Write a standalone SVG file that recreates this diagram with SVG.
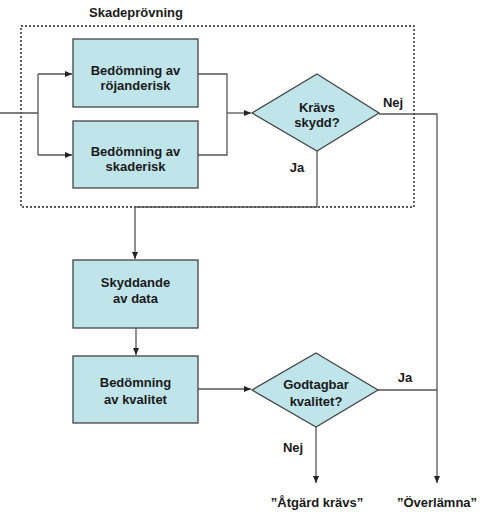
<svg xmlns="http://www.w3.org/2000/svg" width="492" height="515" viewBox="0 0 492 515">
<style>
.box{fill:#bfe4ea;stroke:#444;stroke-width:1.3}
.ln{fill:none;stroke:#555;stroke-width:1.3}
.t{font-family:"Liberation Sans",Arial,sans-serif;font-weight:bold;font-size:13px;fill:#1a1a1a;text-anchor:middle}
.dash{fill:none;stroke:#222;stroke-width:1.4;stroke-dasharray:2 2}
</style>
<defs>
<marker id="ah" markerWidth="8" markerHeight="8" refX="7" refY="4" orient="auto" markerUnits="userSpaceOnUse">
<path d="M0,1 L7,4 L0,7 Z" fill="#222"/>
</marker>
</defs>
<rect width="492" height="515" fill="#fff"/>
<g id="skadeprovning">
<rect class="dash" x="21" y="26" width="393" height="181"/>
<text class="t" x="136" y="17">Skadeprövning</text>
</g>
<g id="connectors">
<path class="ln" d="M0,113 H38"/>
<path class="ln" d="M38,74 V155"/>
<path class="ln" d="M38,74 H72" marker-end="url(#ah)"/>
<path class="ln" d="M38,155 H72" marker-end="url(#ah)"/>
<path class="ln" d="M198,74 H227 V155 H198"/>
<path class="ln" d="M227,113 H251" marker-end="url(#ah)"/>
<path class="ln" d="M379,114 H437 V483" marker-end="url(#ah)"/>
<path class="ln" d="M317,151 V207 H135 V259" marker-end="url(#ah)"/>
<path class="ln" d="M136,328 V355" marker-end="url(#ah)"/>
<path class="ln" d="M198,389 H251" marker-end="url(#ah)"/>
<path class="ln" d="M378,390 H437"/>
<path class="ln" d="M316,427 V483" marker-end="url(#ah)"/>
<text class="t" x="393" y="107">Nej</text>
<text class="t" x="297" y="172">Ja</text>
<text class="t" x="405" y="382">Ja</text>
<text class="t" x="293" y="452">Nej</text>
</g>
<g id="rojanderisk">
<rect class="box" x="73" y="39" width="125" height="68"/>
<text class="t" x="135.5" y="75">Bedömning av</text>
<text class="t" x="135.5" y="90">röjanderisk</text>
</g>
<g id="skaderisk">
<rect class="box" x="73" y="121" width="125" height="67"/>
<text class="t" x="135.5" y="156">Bedömning av</text>
<text class="t" x="135.5" y="171">skaderisk</text>
</g>
<g id="kravs-skydd">
<polygon class="box" points="317,74 379,113 317,151 252,113"/>
<text class="t" x="317" y="112">Krävs</text>
<text class="t" x="317" y="127">skydd?</text>
</g>
<g id="skyddande">
<rect class="box" x="73" y="260" width="125" height="68"/>
<text class="t" x="135.5" y="287">Skyddande</text>
<text class="t" x="135.5" y="303">av data</text>
</g>
<g id="bedomning-kvalitet">
<rect class="box" x="73" y="356" width="125" height="67"/>
<text class="t" x="135.5" y="387">Bedömning</text>
<text class="t" x="135.5" y="404">av kvalitet</text>
</g>
<g id="godtagbar">
<polygon class="box" points="316,353 378,390 316,427 252,390"/>
<text class="t" x="316" y="389">Godtagbar</text>
<text class="t" x="316" y="406">kvalitet?</text>
</g>
<g id="atgard">
<text class="t" x="317" y="507">”Åtgärd krävs”</text>
</g>
<g id="overlamna">
<text class="t" x="437" y="507">”Överlämna”</text>
</g>
</svg>
